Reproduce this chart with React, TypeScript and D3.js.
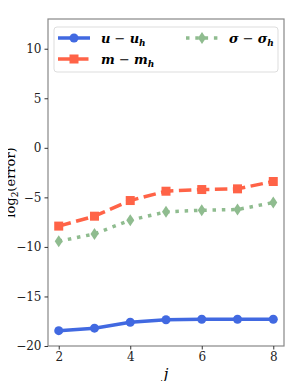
import { useRef, useEffect } from 'react'
import * as d3 from 'd3'

const levels = [2, 3, 4, 5, 6, 7, 8]
const errU = [-18.45, -18.2, -17.6, -17.35, -17.3, -17.3, -17.3]
const errM = [-7.9, -6.9, -5.32, -4.38, -4.21, -4.14, -3.4]
const errSigma = [-9.43, -8.69, -7.3, -6.46, -6.3, -6.23, -5.52]
const xTicks = [2, 4, 6, 8]
const yTicks = [-20, -15, -10, -5, 0, 5, 10]

const width = 299
const height = 389
const margin = { top: 19, right: 15, bottom: 43, left: 48 }
const font = "'DejaVu Serif', serif"

export default function App() {
  const svgRef = useRef<SVGSVGElement>(null)

  useEffect(() => {
    if (!svgRef.current) return
    const svg = d3.select(svgRef.current)
    svg.selectAll("*").remove()

    const x = d3.scaleLinear().domain([1.7, 8.3]).range([margin.left, width - margin.right])
    const y = d3.scaleLinear().domain([-20, 13]).range([height - margin.bottom, margin.top])

    svg.append("rect")
      .attr("width", width).attr("height", height).attr("fill", "white")

    const series = [
      { values: errSigma, color: "#8fbc8f", dash: "3.5,5.8", marker: "diamond" },
      { values: errM, color: "#ff6347", dash: "12.5,5.5", marker: "square" },
      { values: errU, color: "#4169e1", dash: null, marker: "circle" },
    ]

    const line = d3.line<number>()
      .x((_, i) => x(levels[i]))
      .y(d => y(d))

    const drawMarker = (g: any, kind: string, cx: number, cy: number, color: string) => {
      if (kind === "circle") {
        g.append("circle").attr("cx", cx).attr("cy", cy).attr("r", 4.5).attr("fill", color)
      } else if (kind === "square") {
        g.append("rect").attr("x", cx - 4.5).attr("y", cy - 4.5).attr("width", 9).attr("height", 9).attr("fill", color)
      } else {
        g.append("path")
          .attr("d", `M${cx},${cy - 6}L${cx + 4},${cy}L${cx},${cy + 6}L${cx - 4},${cy}Z`)
          .attr("fill", color)
      }
    }

    const plot = svg.append("g")
    series.forEach(s => {
      plot.append("path")
        .attr("d", line(s.values))
        .attr("fill", "none")
        .attr("stroke", s.color)
        .attr("stroke-width", 3.5)
        .attr("stroke-dasharray", s.dash)
      const mg = plot.append("g")
      s.values.forEach((v, i) => drawMarker(mg, s.marker, x(levels[i]), y(v), s.color))
    })

    // frame
    svg.append("rect")
      .attr("x", margin.left).attr("y", margin.top)
      .attr("width", width - margin.left - margin.right)
      .attr("height", height - margin.top - margin.bottom)
      .attr("fill", "none").attr("stroke", "#888").attr("stroke-width", 1.2)

    const xAxis = svg.append("g")
      .attr("transform", `translate(0,${height - margin.bottom})`)
      .call(d3.axisBottom(x).tickValues(xTicks).tickSize(3.5).tickPadding(3).tickFormat(d3.format("d")))
    const yAxis = svg.append("g")
      .attr("transform", `translate(${margin.left},0)`)
      .call(d3.axisLeft(y).tickValues(yTicks).tickSize(3.5).tickPadding(3)
        .tickFormat(d => (+d < 0 ? "\u2212" + Math.abs(+d) : String(d))))
    ;[xAxis, yAxis].forEach(a => {
      a.attr("font-family", null).attr("font-size", null)
      a.select(".domain").remove()
      a.selectAll("line").attr("stroke", "#333")
      a.selectAll("text").style("font-family", font).style("font-size", "12px").attr("fill", "#222")
    })

    svg.append("text")
      .attr("x", x(5)).attr("y", 379)
      .attr("text-anchor", "middle")
      .style("font-family", font).style("font-size", "15px").attr("font-style", "italic")
      .text("j")

    const yl = svg.append("text")
      .attr("transform", `translate(15,${(margin.top + height - margin.bottom) / 2}) rotate(-90)`)
      .attr("text-anchor", "middle")
      .style("font-family", font).style("font-size", "13px")
    yl.append("tspan").text("log")
    yl.append("tspan").style("font-size", "9px").attr("dy", 3).text("2")
    yl.append("tspan").attr("dy", -3).text("(error)")

    // legend
    const lg = svg.append("g")
    lg.append("rect")
      .attr("x", 54).attr("y", 27).attr("width", 224).attr("height", 45).attr("rx", 3)
      .attr("fill", "white").attr("fill-opacity", 0.8)
      .attr("stroke", "#ddd").attr("stroke-width", 1)

    const entries = [
      { s: series[2], sym: "u", lx: 58, ly: 38 },
      { s: series[1], sym: "m", lx: 58, ly: 59 },
      { s: series[0], sym: "\u03c3", lx: 186, ly: 38 },
    ]
    entries.forEach(e => {
      lg.append("line")
        .attr("x1", e.lx).attr("x2", e.lx + 32).attr("y1", e.ly).attr("y2", e.ly)
        .attr("stroke", e.s.color).attr("stroke-width", 3.5)
        .attr("stroke-dasharray", e.s.dash)
      drawMarker(lg, e.s.marker, e.lx + 16, e.ly, e.s.color)
      const t = lg.append("text")
        .attr("x", e.lx + 43).attr("y", e.ly + 4.5)
        .style("font-family", font).style("font-size", "13px")
        .attr("font-weight", "bold").attr("font-style", "italic")
      t.append("tspan").text(e.sym)
      t.append("tspan").attr("font-weight", "normal").attr("font-style", "normal").text(" \u2212 ")
      t.append("tspan").text(e.sym)
      t.append("tspan").style("font-size", "9px").attr("dy", 3).text("h")
    })
  }, [])

  return <svg ref={svgRef} width={width} height={height} style={{ display: 'block', margin: -8 }} />
}
